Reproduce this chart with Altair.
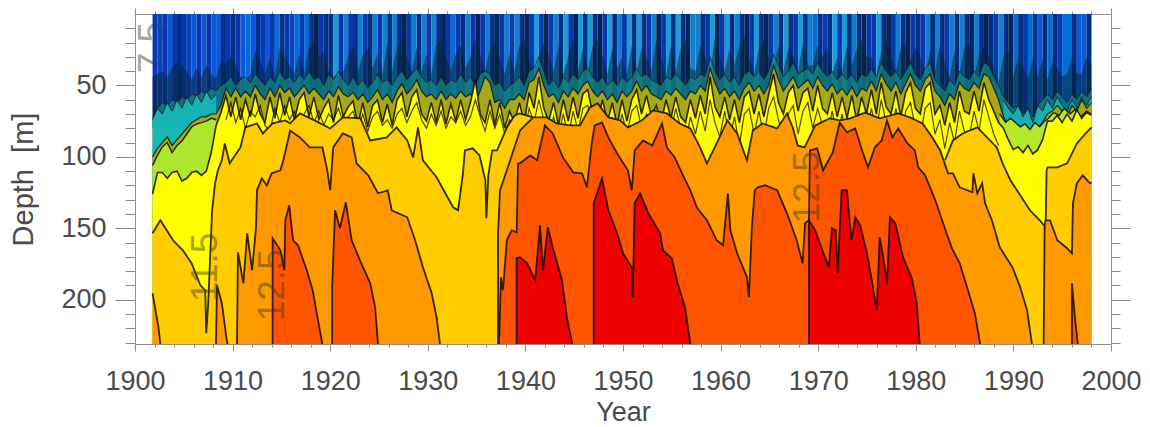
import altair as alt
import pandas as pd

# half-yearly sampling of the thermocline band
grid_years = [round(1901.8 + i * 96.2 / 192, 2) for i in range(193)]

stripe_shade = [3,4,3,6,3,2,3,4,6,3, 6,3,6,6,2,3,2,3,6,7, 6,2,3,6,3,7,2,3,4,7,
 3,7,2,1,3,2,2,9,3,8, 3,2,8,3,2,8,3,8,2,8, 2,1,3,8,2,8,3,8,2,1,
 3,7,3,2,8,3,1,3,8,2, 1,3,8,3,8,2,1,3,9,3, 1,3,8,2,9,3,1,9,2,9,
 2,1,3,9,2,8,3,9,2,9, 2,3,8,1,3,9,2,9,2,1, 8,8,2,3,9,1,3,9,2,8,
 2,1,3,9,2,1,3,8,2,9, 2,3,9,2,8,7,2,3,2,9, 3,9,2,8,2,1,3,3,9,2,
 1,3,8,2,1,3,2,3,8,2, 8,2,3,8,2,8,2,1,8,2, 1,2,3,8,2,1,7,2,3,7,
 2,6,2,7,2,3,7,7,2,6, 6,2,3]

dark_top = [44,42,40,44,38,34,36,40,46,38, 44,36,42,45,32,35,30,36,44,46, 42,26,32,42,30,44,24,30,36,42,
 28,42,22,20,30,26,40,44,42,40, 30,22,40,28,24,38,28,42,20,40, 22,18,30,40,24,40,28,42,22,18,
 30,40,28,22,38,30,18,28,40,24, 20,30,42,28,40,22,18,32,44,30, 20,28,40,22,42,30,16,40,24,40,
 22,18,30,42,24,38,30,42,22,40, 24,30,40,18,30,44,22,40,24,18, 38,40,22,30,42,16,30,40,24,36,
 22,16,30,42,24,18,30,38,22,40, 24,30,40,20,36,36,22,30,24,42, 30,40,22,36,24,18,30,30,44,26,
 18,30,40,24,20,32,24,30,42,26, 40,22,34,44,26,42,24,20,44,28, 24,30,36,48,30,24,44,30,36,46,
 30,44,32,46,34,38,44,42,30,42, 42,30,36]

teal_top = [72,66,62,64,60,62,58,60,56,58,54,56,52,54,50,
 48,44,50,46,44,48,42,46,50,44,48,40,46,44,48,42,46,40,46,
 44,50,42,46,40,46,50,44,50,46,52,48,42,48,46,50,44,40,46,42,
 38,44,48,46,50,44,50,46,48,42,48,44,50,42,40,42,50,48,54,50,
 48,44,50,40,38,30,40,50,46,52,44,48,42,46,40,38,44,48,44,50,
 46,50,44,48,44,38,44,42,46,48,50,44,46,42,46,50,44,46,42,44,
 30,40,46,42,48,44,50,42,40,44,40,46,40,28,36,44,40,34,42,40,
 38,42,34,40,44,40,46,42,46,42,48,42,44,38,44,34,40,44,40,46,
 40,34,42,46,38,34,46,50,54,46,50,40,44,46,40,44,34,36,44,50,
 58,62,66,64,70,66,72,64,60,56,60,54,58,62,56,60,54,58,52]

olive_top = [100,94,90,86,92,88,84,80,76,74,72,72,70,70,64,
 52,58,52,58,54,58,50,56,60,52,58,50,55,52,58,54,50,56,52,
 56,60,54,58,51,56,58,55,60,56,62,58,53,60,56,62,54,49,56,52,
 46,54,58,56,60,54,60,56,59,54,58,56,62,54,44,48,62,60,66,60,
 60,56,60,48,46,38,50,58,56,62,54,58,52,56,50,47,54,58,54,60,
 56,62,54,58,54,47,54,50,56,58,60,54,57,52,56,60,54,56,50,54,
 38,48,56,52,58,54,60,52,48,54,50,56,50,36,46,54,49,44,52,49,
 46,52,44,50,54,49,56,52,57,51,58,52,54,47,54,42,49,54,48,56,
 49,42,50,54,46,42,54,58,64,56,60,48,52,54,48,52,42,44,52,60,
 72,78,84,82,86,84,88,80,76,70,68,64,68,72,64,68,60,66,62]

yellow_top = [126,111,111,115,111,110,117,115,111,110,113,110,97,78,
 69,57,72,58,74,60,72,56,70,76,58,73,55,71,58,74,60,55,72,58,
 74,66,60,76,57,72,65,61,78,62,79,64,60,76,63,78,60,55,72,58,
 53,70,75,62,76,60,77,63,75,60,74,62,46,70,76,60,78,62,80,68,
 76,62,76,55,66,44,66,75,62,78,60,75,58,73,56,53,70,74,60,76,
 62,78,60,75,60,53,70,57,72,64,76,60,73,58,72,76,60,73,57,70,
 44,65,72,58,74,60,76,58,54,70,56,72,56,42,62,70,55,50,68,55,
 52,68,50,66,70,55,72,58,73,57,75,58,70,53,70,48,65,70,54,72,
 55,48,66,70,52,48,70,64,78,62,76,54,68,70,54,68,48,60,68,76,
 80,88,95,93,97,92,98,95,88,75,75,71,76,70,75,67,73,69,71]

speck_years = grid_years[15:174]
speck_depth = [74,62,76,66,80,68,72,64,78,82,66,76,64,74,68,78,70,64,76,
 68,78,70,74,66,76,72,68,80,70,82,72,68,78,74,80,70,66,76,68,
 62,74,80,70,78,68,80,72,76,68,78,72,60,72,82,68,80,70,84,74,
 80,72,84,66,76,60,74,86,72,84,70,86,68,82,66,64,78,84,70,88,
 72,86,70,84,68,64,80,70,84,74,88,70,82,66,80,90,72,84,68,82,
 60,76,86,68,88,72,92,70,66,84,68,86,66,58,74,88,70,64,84,68,
 62,80,66,78,84,68,86,70,88,72,90,70,84,66,82,60,76,86,66,88,
 68,62,80,86,66,62,84,74,94,76,90,68,82,86,68,82,60,72,84,92]

cyan_left_years = grid_years[:14]
cyan_left_top = [74,66,70,62,68,60,66,58,64,56,62,54,60,56]
cyan_right_years = grid_years[174:]
cyan_right_top = [60,66,70,64,72,66,76,64,68,60,66,58,64,68,60,66,58,64,58]

green_left_years = grid_years[:14]
green_left_top = [106,99,93,90,97,92,89,84,79,77,76,75,73,74]
green_right_years = [1988.6,1989.2,1989.7,1990.2,1990.7,1991.2,1991.7,1992.2,1992.7,1993.2,1993.6,1994.1,1994.7,1995.2,1995.8,1996.3,1996.9,1997.5,1998.0]
green_right_top = [70,76,73,76,79,77,81,76,79,75,73,69,71,66,70,67,72,68,70]

gold_a_y = [1901.8,1902.6,1903.9,1904.9,1905.8,1906.7,1907.2,1907.3,1907.5,1907.9,1908.2,1908.5,1908.9,1909.2,1909.7,1910.8,1911.3,1912.5,1913.1,1914.1,1915.4,1915.9,1916.9,1918.4,1920.0,1921.3,1923.1,1924.1,1925.8,1926.8,1927.9,1928.5,1929.0,1929.5,1930.9,1931.8,1932.6,1933.1,1933.6,1933.8,1934.6,1935.3,1935.9,1936.0,1936.2,1936.6,1937.1,1938.1,1938.9,1939.4,1940.8]
gold_a_d = [153.5,144.4,158.4,165.4,174.5,189.9,193.4,223.4,202.4,137.4,118.5,109.4,102.4,90.6,104.5,93.4,79.4,76.6,83.6,76.6,74.5,76.6,69.6,74.5,80.1,72.4,73.1,88.5,86.4,79.4,88.5,100.4,79.4,102.4,114.3,125.5,135.3,137.4,111.5,95.5,94,99,116.4,143,113,95.5,95.5,79.4,71,69.6,72.4]
gold_b_y = [1983.0,1983.8,1984.8,1986.3,1987.3,1988.3,1988.9,1989.7,1990.7,1991.7,1992.7,1993.3,1993.4,1993.5,1994.5,1995.5,1996.5,1997.5,1998.0]
gold_b_d = [102.4,88.5,83.6,79.4,86.4,93.4,104.5,116.4,126.9,137.4,144.4,149.3,109.4,107.3,107.3,104.5,90.6,82.9,79.4]

orange_a_y = [1901.8,1902.4,1902.6]
orange_a_d = [195.5,219.2,231]
orange_b_y = [1908.3,1908.4,1908.9,1909.4,1909.5]
orange_b_d = [231,189.9,202.4,228.3,231]
orange_c_y = [1910.45,1910.55,1911.1,1911.5,1912.0,1912.4,1912.5,1913.0,1913.5,1914.0,1914.9,1915.2,1915.9,1916.9,1917.9,1919.2,1919.7,1920.0,1920.3,1921.3,1922.2,1922.7,1923.9,1924.9,1925.9,1926.3,1927.9,1928.7,1929.5,1930.4,1930.9,1931.25]
orange_c_d = [231,166.8,188.5,153.5,179.4,149.3,123.4,115,119.9,111.5,109.4,102.4,81.5,86.4,93.4,93.4,109.4,123.4,93.4,83.6,86.4,104.5,112.9,125.5,123.4,137.4,142.3,158.4,177.3,195.5,212.2,231]
orange_d_y = [1937.2,1937.2,1937.4,1938.1,1939.45,1940.8,1942.2,1943.2,1944.6,1945.6,1946.6,1947.4,1948.5,1949.7,1950.5,1951.9,1953.1,1954.5,1955.8,1956.9,1957.9,1958.6,1959.6,1960.7,1961.7,1962.7,1963.3,1964.3,1965.8,1966.8,1967.4,1967.9,1968.6,1969.7,1971.2,1972.2,1973.3,1974.8,1976.3,1978.2,1979.4,1980.7,1981.7,1982.5,1983.3,1983.8,1984.5,1985.8,1985.9,1986.3,1986.8,1987.1,1987.8,1988.6,1989.9,1990.7,1991.4,1991.9]
orange_d_d = [231,153.5,123.4,109.4,81.5,72.4,72.4,76.6,78,78,65.4,62.6,72.4,74.5,79.4,74.5,67.5,69.6,76.6,80.1,93.4,104.5,90.6,74.5,83.6,102.4,81.5,76.6,80.1,69.6,79.4,92,93.4,78,73,74.5,73,69,73,69.6,72.4,76.6,86.4,95.5,111.5,111.5,121.3,124.8,111.5,125.5,118.5,132.5,144.4,163.3,177.3,191.3,207.4,231]
orange_e_y = [1993.1,1993.2,1993.3,1993.75,1994.5,1995.5,1996.0,1996.1,1996.5,1997.1,1997.85,1998.0]
orange_e_d = [231,147.9,144.4,144.4,158.4,164,167.5,132.5,118.5,112.9,118.5,117.8]

deep_a_y = [1914.1,1914.1,1914.9,1915.3,1915.4,1915.8,1916.2,1916.7,1917.6,1918.2,1918.75,1919.2]
deep_a_d = [231,157,165.4,179.4,144.4,133.9,158.4,161.9,179.4,193.4,214.3,231]
deep_b_y = [1920.2,1920.2,1920.5,1921.0,1921.6,1922.2,1923.05,1924.1,1924.6,1924.9]
deep_b_d = [231,191.3,137.4,150,131.8,158.4,172.4,188.5,205.2,231]
deep_c_y = [1937.3,1937.5,1937.7,1938.1,1938.6,1939.1,1939.25,1939.45,1940.5,1941.2,1942.0,1942.8,1943.85,1944.9,1945.8,1946.3,1946.8,1947.1,1947.85,1948.5,1949.4,1950.5,1950.9,1951.2,1952.05,1953.0,1954.0,1954.5,1955.3,1956.15,1956.9,1957.6,1958.6,1959.6,1960.25,1960.75,1961.0,1961.7,1962.7,1962.9,1963.2,1963.5,1963.8,1964.55,1965.8,1966.8,1967.8,1968.4,1968.65,1969.05,1969.15,1969.9,1970.5,1971.5,1972.2,1972.95,1973.8,1974.5,1975.1,1975.8,1976.5,1977.05,1977.6,1978.2,1979.15,1979.9,1980.25,1980.95,1982.0,1982.8,1983.7,1984.5,1985.35,1986.05,1986.6]
deep_c_d = [231,184.3,193.4,158.4,151.4,152.8,104.5,104.5,99,102.4,78,83.6,100.4,110.8,111.5,121.3,90.6,78,75.9,86.4,97.6,109.4,123.4,95.5,88.5,92,76.6,93.4,100.4,112.9,123.4,135.9,144.4,158.4,161.9,125.5,151.4,167.5,184.3,198.3,149.3,123.4,121.3,119.9,123.4,139.5,158.4,174.5,146.5,144.4,95.5,94,109.4,96.9,75.9,82.9,80.1,95.5,107.3,93.4,88.5,74.5,86.4,80.1,90.6,95.5,107.3,112.9,130.4,146.5,164,174.5,193.4,209.4,231]
deep_d_y = [1996.0,1996.0,1996.3,1996.6]
deep_d_d = [231,188.5,212.2,231]

red_a_y = [1939.1,1939.1,1939.45,1940.2,1941.0,1941.5,1941.8,1942.3,1942.8,1943.75,1944.25,1944.8]
red_a_d = [231,171,170.3,174.5,186.4,147.9,179.4,149.3,163.3,186.4,212.2,231]
red_b_y = [1947.0,1947.0,1947.85,1948.5,1949.4,1950.0,1950.9,1951.0,1951.2,1951.75,1952.6,1953.8,1954.1,1955.0,1955.6,1956.35,1956.9]
red_b_d = [231,132.5,115,137.4,153.5,167.5,177.3,198.3,132.5,125.5,139.5,153.5,165.4,171,188.5,205.2,231]
red_c_y = [1969.05,1969.05,1969.7,1970.5,1971.1,1971.4,1971.8,1972.0,1972.4,1972.95,1973.4,1973.8,1974.3,1975.0,1975.5,1976.0,1976.3,1976.6,1977.05,1977.35,1977.9,1978.7,1979.6,1980.1,1980.4]
red_c_d = [231,144.4,151.4,166.8,177.3,150,151.4,181.5,123.4,123.4,158.4,142.3,147.9,167.5,186.4,207.4,156.3,167.5,188.5,142.3,146.5,170.3,185,202.4,231]

back_label_text = ["7.5"]
back_label_year = [1901.8]
back_label_depth = [23.5]
front_label_text = ["11.5", "12.5", "12.5"]
front_label_year = [1907.3, 1914.1, 1969.0]
front_label_depth = [177.3, 189.9, 121.3]

x_major = [1900, 1910, 1920, 1930, 1940, 1950, 1960, 1970, 1980, 1990, 2000]
x_minor = [y for y in range(1900, 2001, 2) if y % 10]
y_major = [50, 100, 150, 200]
y_minor = [d for d in range(10, 231, 10) if d % 50]

XS = alt.Scale(domain=[1900, 2000], nice=False, zero=False)
YS = alt.Scale(domain=[0, 231], reverse=True, nice=False, zero=False)
LINE = "#140a00"
FONT = "Liberation Sans"


def frame(year, depth):
    return pd.DataFrame({"year": year, "depth": depth, "base": [231] * len(year),
                         "idx": list(range(len(year)))})


def contour(year, depth, width, line_op):
    return alt.Chart(frame(year, depth)).mark_line(color=LINE, strokeWidth=width, opacity=line_op).encode(
        x=alt.X("year:Q", scale=XS, axis=None),
        y=alt.Y("depth:Q", scale=YS, axis=None),
        order=alt.Order("idx:Q"),
    )


def band(year, depth, color, width=1.8, line_op=0.85, fill_op=1.0):
    df = frame(year, depth)
    area = alt.Chart(df).mark_area(fill=color, opacity=fill_op, stroke=None).encode(
        x=alt.X("year:Q", scale=XS, axis=None),
        y=alt.Y("depth:Q", scale=YS, axis=None, stack=None),
        y2=alt.Y2("base:Q"),
    )
    out = [area]
    if width > 0:
        out.append(contour(year, depth, width, line_op))
    return out


def guide(x_axis, y_axis):
    df = pd.DataFrame({"year": [1950], "depth": [100]})
    return alt.Chart(df).mark_point(opacity=0).encode(
        x=alt.X("year:Q", scale=XS, axis=x_axis),
        y=alt.Y("depth:Q", scale=YS, axis=y_axis),
    )


GREY = "#8c8c8c"
TXT = "#4a4a4a"
common = dict(domainColor=GREY, tickColor=GREY, grid=False, labelFont=FONT, labelFontSize=27,
              labelColor=TXT, titleFont=FONT, titleFontWeight="normal", titleColor=TXT)

bottom_major = alt.Axis(orient="bottom", values=x_major, format="d", tickSize=7, labelPadding=17,
                        title="Year", titleFontSize=27, titlePadding=5, labelFlush=False, **common)
left_major = alt.Axis(orient="left", values=y_major, tickSize=20, labelPadding=9,
                      title="Depth\u00a0\u00a0[m]", titleFontSize=29, titlePadding=22, **common)
top_major = alt.Axis(orient="top", values=x_major, tickSize=6, labels=False, title=None,
                     domainColor=GREY, tickColor=GREY, grid=False)
right_major = alt.Axis(orient="right", values=y_major, tickSize=19, labels=False, title=None,
                       domainColor=GREY, tickColor=GREY, grid=False)
bottom_minor = alt.Axis(orient="bottom", values=x_minor, tickSize=3, labels=False, title=None,
                        domain=False, tickColor=GREY, grid=False)
left_minor = alt.Axis(orient="left", values=y_minor, tickSize=10, labels=False, title=None,
                      domain=False, tickColor=GREY, grid=False)
top_minor = alt.Axis(orient="top", values=x_minor, tickSize=3, labels=False, title=None,
                     domain=False, tickColor=GREY, grid=False)
right_minor = alt.Axis(orient="right", values=y_minor, tickSize=9, labels=False, title=None,
                       domain=False, tickColor=GREY, grid=False)

back_df = pd.DataFrame({"year": back_label_year, "depth": back_label_depth, "t": back_label_text})
front_df = pd.DataFrame({"year": front_label_year, "depth": front_label_depth, "t": front_label_text})


def labels(df, opacity):
    return alt.Chart(df).mark_text(angle=270, font=FONT, fontSize=37, color="#3c3c14",
                                   opacity=opacity, baseline="middle", align="center").encode(
        x=alt.X("year:Q", scale=XS, axis=None),
        y=alt.Y("depth:Q", scale=YS, axis=None),
        text="t:N",
    )


stripes = pd.DataFrame({
    "year": grid_years,
    "next": grid_years[1:] + [1998.0],
    "shade": stripe_shade,
    "d0": [0] * 193,
    "d1": [80] * 193,
})
stripe_layer = alt.Chart(stripes).mark_rect(stroke=None).encode(
    x=alt.X("year:Q", scale=XS, axis=None),
    x2="next:Q",
    y=alt.Y("d0:Q", scale=YS, axis=None),
    y2="d1:Q",
    color=alt.Color("shade:Q", legend=None,
                    scale=alt.Scale(domain=[1, 3, 6, 8, 9],
                                    range=["#04245c", "#0838b0", "#0a58d8", "#0f80d0", "#1a9cd8"])),
)

layers = [
    guide(bottom_major, left_major),
    guide(bottom_minor, left_minor),
    guide(top_major, right_major),
    guide(top_minor, right_minor),
    labels(back_df, 0.45),
    stripe_layer,
]
layers += band(grid_years, dark_top, "#04222e", width=0, fill_op=0.5)
layers += band(grid_years, teal_top, "#128a86", width=0.9, line_op=0.6, fill_op=0.7)
layers += band(cyan_left_years, cyan_left_top, "#16c0bc", width=1.0, line_op=0.7, fill_op=0.85)
layers += band(cyan_right_years, cyan_right_top, "#16b8bc", width=1.0, line_op=0.7, fill_op=0.85)
layers += band(grid_years, olive_top, "#a6a818", width=1.2, line_op=0.8)
layers += band(green_left_years, green_left_top, "#aee62e", width=1.4)
layers += band(green_right_years, green_right_top, "#b4e82a", width=1.4)
layers += band(grid_years, yellow_top, "#ffff00", width=1.6)
layers.append(contour(speck_years, speck_depth, 1.2, 0.75))
layers += band(gold_a_y, gold_a_d, "#ffcc00")
layers += band(gold_b_y, gold_b_d, "#ffcc00")
for y, d in [(orange_a_y, orange_a_d), (orange_b_y, orange_b_d), (orange_c_y, orange_c_d),
             (orange_d_y, orange_d_d), (orange_e_y, orange_e_d)]:
    layers += band(y, d, "#ff9900")
for y, d in [(deep_a_y, deep_a_d), (deep_b_y, deep_b_d), (deep_c_y, deep_c_d), (deep_d_y, deep_d_d)]:
    layers += band(y, d, "#ff5500")
for y, d in [(red_a_y, red_a_d), (red_b_y, red_b_d), (red_c_y, red_c_d)]:
    layers += band(y, d, "#ee0000")
layers.append(labels(front_df, 0.45))

chart = alt.layer(*layers).resolve_axis(x="independent", y="independent").properties(
    width=976, height=330,
    autosize=alt.AutoSizeParams(type="none"),
    padding={"left": 127, "top": 6, "right": 30, "bottom": 82},
    background="white",
).configure_view(stroke=None)

chart.save("out.html", embed_options={"renderer": "svg", "actions": False})
